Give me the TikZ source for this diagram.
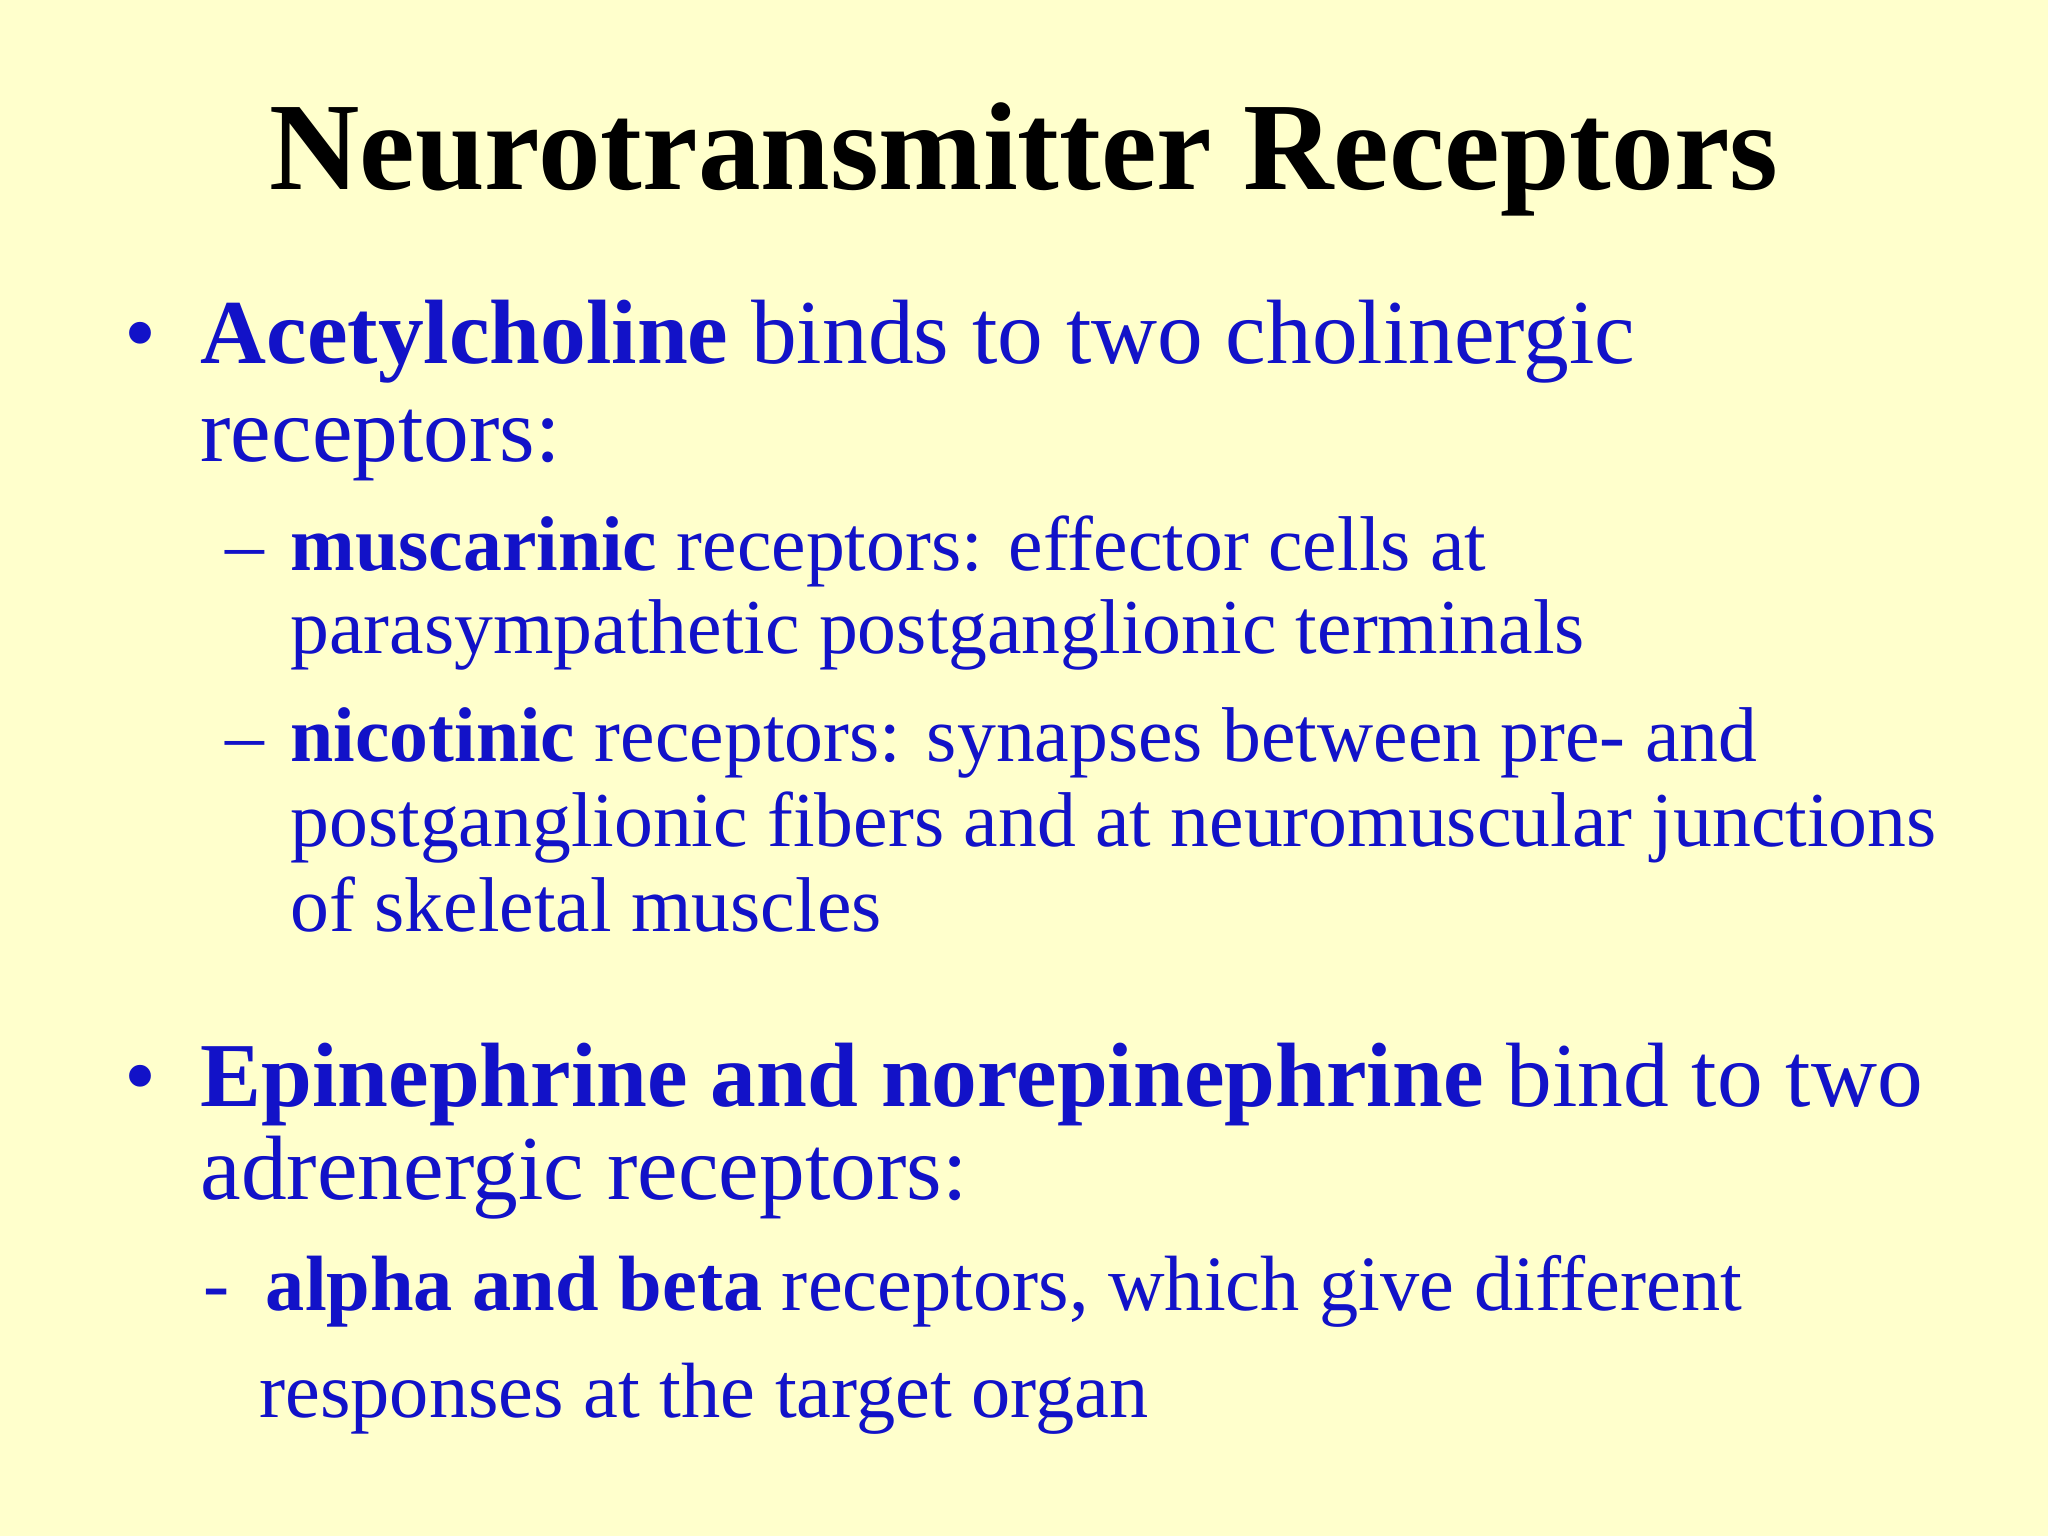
\documentclass[tikz,border=0pt]{standalone}
\usepackage{fontspec}
\setmainfont{Liberation Serif}
\definecolor{bg}{RGB}{255,255,204}
\definecolor{tb}{RGB}{18,18,200}
\begin{document}
\begin{tikzpicture}[x=0.013061cm,y=-0.013061cm,
  big/.style={anchor=base west,inner sep=0pt,text=tb,font=\fontsize{26}{30}\selectfont},
  sml/.style={anchor=base west,inner sep=0pt,text=tb,font=\fontsize{22.1}{26}\selectfont},
  alp/.style={anchor=base west,inner sep=0pt,text=tb,font=\fontsize{22.3}{26}\selectfont}]
\fill[bg] (0,0) rectangle (1568,1176);
\useasboundingbox (0,0) rectangle (1568,1176);
\node[anchor=base,inner sep=0pt,font=\fontsize{35.6}{40}\selectfont\bfseries] (title) at (784,145) {Neurotransmitter Receptors};
\node[big] (b1) at (95,278) {•};
\node[big] (l1) at (153,278) {\textbf{Acetylcholine} binds to two cholinergic};
\node[big] (l2) at (153,353) {receptors:};
\node[sml] (d1) at (172,437) {–};
\node[sml] (l3) at (222,437) {\textbf{muscarinic} receptors: effector cells at};
\node[sml] (l4) at (222,500) {parasympathetic postganglionic terminals};
\node[sml] (d2) at (172,583) {–};
\node[sml] (l5) at (222,583) {\textbf{nicotinic} receptors: synapses between pre- and};
\node[sml] (l6) at (222,648) {postganglionic fibers and at neuromuscular junctions};
\node[sml] (l7) at (222,713) {of skeletal muscles};
\node[big] (b2) at (95,847) {•};
\node[big] (l8) at (153,847) {\textbf{Epinephrine and norepinephrine} bind to two};
\node[big] (l9) at (153,918) {adrenergic receptors:};
\node[alp] (d3) at (155,1003) {-};
\node[alp] (l10) at (203,1003) {\textbf{alpha and beta} receptors, which give different};
\node[alp] (l11) at (198,1085) {responses at the target organ};
\end{tikzpicture}
\end{document}
